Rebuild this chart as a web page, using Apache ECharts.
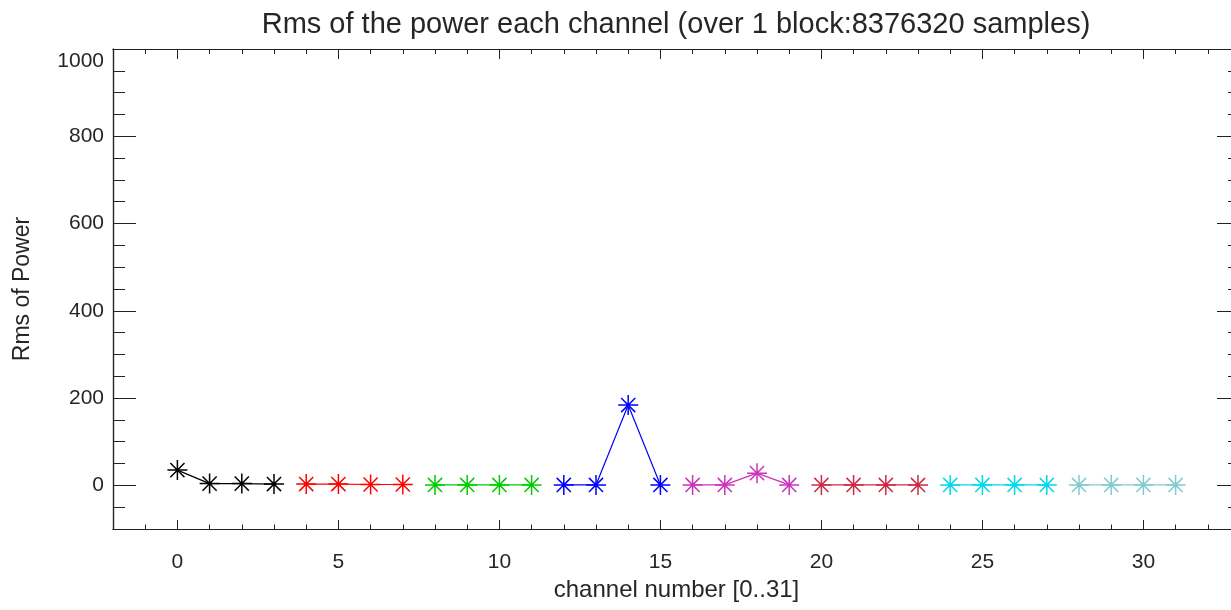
<!DOCTYPE html>
<html><head><meta charset="utf-8">
<script src="https://cdn.jsdelivr.net/npm/echarts@6/dist/echarts.min.js"></script>
<style>html,body{margin:0;padding:0;background:#fff;overflow:hidden}#c{width:1250px;height:610px}</style>
</head><body><div id="c"></div>
<script>
// Data
const channels = [0,1,2,3,4,5,6,7,8,9,10,11,12,13,14,15,16,17,18,19,20,21,22,23,24,25,26,27,28,29,30,31];
const rmsPower = [35,4,4,3, 3,3,2,2, 1,1,1,1, 1,1,184,1, 1,1,28,1, 1,1,1,1, 1,1,1,1, 1,1,1,1];
const groupColors = ['#000000','#ff0000','#00cc00','#0000ff','#cc33bb','#cc2a48','#00d8ee','#80cccc'];
const xMajorTicks = [0,5,10,15,20,25,30];
const xMinorTicks = [-1,0,1,2,3,4,5,6,7,8,9,10,11,12,13,14,15,16,17,18,19,20,21,22,23,24,25,26,27,28,29,30,31,32];
const yMajorTicks = [0,200,400,600,800,1000];
const yMinorTicks = [-50,0,50,100,150,200,250,300,350,400,450,500,550,600,650,700,750,800,850,900,950];
const titleText = 'Rms of the power each channel (over 1 block:8376320 samples)';
const xName = 'channel number [0..31]';
const yName = 'Rms of Power';

const TXT = '#262626';
const AX = '#222';
const FONT = '"Liberation Sans", Arial, Helvetica, sans-serif';
const star = 'path://M0,-10L0,10M-10,0L10,0M-7.07,-7.07L7.07,7.07M-7.07,7.07L7.07,-7.07';

const series = [];
for (let g = 0; g < 8; g++) {
  const data = [];
  for (let k = 0; k < 4; k++) { const i = g*4+k; data.push([channels[i], rmsPower[i]]); }
  series.push({
    type: 'line', data, xAxisIndex: 0, yAxisIndex: 0,
    symbol: star, symbolSize: 20, symbolKeepAspect: true,
    lineStyle: { color: groupColors[g], width: 1.2 },
    itemStyle: { color: 'none', borderColor: groupColors[g], borderWidth: 1.5 },
    emphasis: { disabled: true }, animation: false
  });
}

function xAx(pos, ticks, len, labels) {
  return {
    type: 'value', position: pos, min: -2, max: 33,
    axisLine: { show: true, onZero: false, lineStyle: { color: AX, width: 1.2 } },
    axisTick: { show: true, inside: true, length: len, customValues: ticks, lineStyle: { color: AX, width: 1 } },
    axisLabel: labels ? { show: true, customValues: xMajorTicks, margin: 23, fontSize: 21, color: TXT, fontFamily: FONT } : { show: false },
    splitLine: { show: false },
    name: labels ? xName : '', nameLocation: 'middle', nameGap: 38,
    nameTextStyle: { fontSize: 24, color: TXT, fontFamily: FONT }
  };
}
function yAx(pos, ticks, len, labels) {
  return {
    type: 'value', position: pos, min: -100, max: 1000,
    axisLine: { show: true, onZero: false, lineStyle: { color: AX, width: 1.2 } },
    axisTick: { show: true, inside: true, length: len, customValues: ticks, lineStyle: { color: AX, width: 1 } },
    axisLabel: labels ? {
      show: true, customValues: yMajorTicks, margin: 9, fontSize: 21, color: TXT, fontFamily: FONT,
      formatter: v => v === 1000 ? '{t|1000}' : String(v),
      rich: { t: { fontSize: 21, color: TXT, fontFamily: FONT, padding: [24,0,0,0] } }
    } : { show: false },
    splitLine: { show: false },
    name: labels ? yName : '', nameLocation: 'middle', nameGap: 79,
    nameTextStyle: { fontSize: 23, color: TXT, fontFamily: FONT }
  };
}

const chart = echarts.init(document.getElementById('c'), null, { renderer: 'canvas' });
chart.setOption({
  backgroundColor: '#fff',
  animation: false,
  title: { text: titleText, left: 671, top: 5, textAlign: 'center',
    textStyle: { fontSize: 29, fontWeight: 'normal', color: TXT, fontFamily: FONT } },
  grid: { left: 113, top: 49, width: 1127, height: 480, containLabel: false },
  xAxis: [
    xAx('bottom', xMajorTicks, 9, true),
    xAx('bottom', xMinorTicks, 4.5, false),
    xAx('top', xMajorTicks, 10, false),
    xAx('top', xMinorTicks, 5, false)
  ],
  yAxis: [
    yAx('left', yMajorTicks, 23, true),
    yAx('left', yMinorTicks, 12, false),
    yAx('right', yMajorTicks, 23, false),
    yAx('right', yMinorTicks, 12, false)
  ],
  series
});
</script></body></html>
